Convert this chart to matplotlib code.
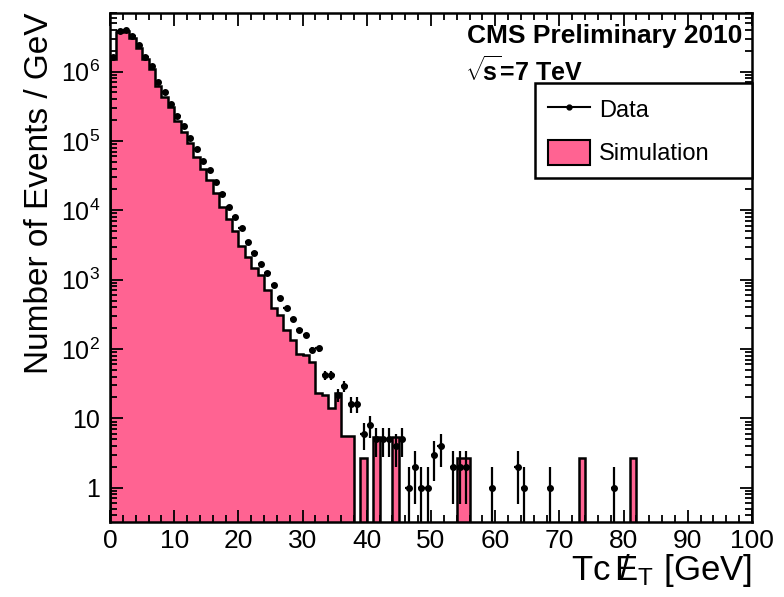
#!usr/bin/env python
'''
CMS 2010 Tc MET distribution, data vs simulation
'''

import numpy as np
import matplotlib
matplotlib.use('Agg')
import matplotlib.pyplot as plt
from matplotlib.ticker import MultipleLocator, LogLocator, FuncFormatter, NullFormatter
from matplotlib.lines import Line2D
from matplotlib.patches import Patch

plt.rcParams['font.family'] = ['Liberation Sans', 'DejaVu Sans']
plt.rcParams['mathtext.fontset'] = 'custom'
plt.rcParams['mathtext.rm'] = 'Liberation Sans'
plt.rcParams['mathtext.it'] = 'Liberation Sans:italic'
plt.rcParams['mathtext.bf'] = 'Liberation Sans:bold'

# 1 GeV bins from 0 to 100
edges = np.arange(0, 101, 1)

# simulation, bins 0..37
sim_bulk = [1.5e6, 3.7e6, 3.9e6, 3.1e6, 2.2e6, 1.5e6, 1.1e6, 6.3e5, 4.3e5, 3.1e5,
            1.96e5, 1.35e5, 9.2e4, 5.9e4, 4.0e4, 2.7e4, 1.8e4, 1.1e4, 7.6e3, 5.1e3,
            3.1e3, 2.1e3, 1.46e3, 1.15e3, 700, 385, 310, 188, 135, 84,
            82, 66, 23, 22, 14, 23, 5.5, 5.5]
sim_tail_bins = [39, 41, 44, 54, 55, 73, 81]
sim_tail_vals = [2.7, 5.4, 5.4, 2.7, 2.7, 2.7, 2.7]

# data, bins 0..40
data_bulk = [1.6e6, 3.8e6, 4.0e6, 3.3e6, 2.4e6, 1.6e6, 1.2e6, 7.1e5, 5.0e5, 3.4e5,
             2.3e5, 1.66e5, 1.1e5, 7.7e4, 5.2e4, 3.8e4, 2.6e4, 1.7e4, 1.1e4, 8.0e3,
             5.5e3, 3.5e3, 2.46e3, 1.7e3, 1.23e3, 850, 535, 390, 270, 188,
             160, 97, 102, 42, 42, 22, 29, 16, 16, 6, 8]
data_tail_bins = [41, 42, 43, 44, 45, 46, 47, 48, 49, 50, 51, 53, 54, 55, 59, 63, 64, 68, 78]
data_tail_counts = [5, 5, 5, 4, 5, 1, 2, 1, 1, 3, 4, 2, 2, 2, 1, 2, 1, 1, 1]

pink = '#ff6392'


def build_hists():
    sim = np.zeros(100)
    sim[:len(sim_bulk)] = sim_bulk
    sim[sim_tail_bins] = sim_tail_vals
    data = np.zeros(100)
    data[:len(data_bulk)] = data_bulk
    data[data_tail_bins] = data_tail_counts
    return sim, data


def plot_met():
    sim, data = build_hists()
    centers = 0.5 * (edges[:-1] + edges[1:])

    fig = plt.figure(figsize=(7.84, 5.97), dpi=100)
    ax = fig.add_axes([110 / 784, 1 - 522 / 597, 642 / 784, 509 / 597])
    ax.set_yscale('log')

    ax.stairs(sim, edges, baseline=0, fill=True, color=pink, lw=0)
    ax.stairs(sim, edges, baseline=0, fill=False, color='black', lw=1.8)

    m = data > 0
    ax.errorbar(centers[m], data[m], xerr=0.5, yerr=np.sqrt(data[m]),
                fmt='o', ms=4, color='black', ecolor='black', elinewidth=1.6,
                capsize=0, zorder=5)

    ax.set_xlim(0, 100)
    ax.set_ylim(0.32, 7e6)

    ax.xaxis.set_major_locator(MultipleLocator(10))
    ax.xaxis.set_minor_locator(MultipleLocator(2))
    ax.yaxis.set_major_locator(LogLocator(base=10, numticks=20))
    ax.yaxis.set_minor_locator(LogLocator(base=10, subs=np.arange(2, 10), numticks=20))
    ax.yaxis.set_minor_formatter(NullFormatter())

    def yfmt(v, pos):
        e = int(round(np.log10(v)))
        if e == 0:
            return '1'
        if e == 1:
            return '10'
        return r'$\mathregular{10^{%d}}$' % e
    ax.yaxis.set_major_formatter(FuncFormatter(yfmt))

    ax.tick_params(which='both', direction='in', top=True, right=True, width=1.3)
    ax.tick_params(which='major', length=9)
    ax.tick_params(which='minor', length=5)
    ax.tick_params(axis='x', labelsize=19, pad=5)
    ax.tick_params(axis='y', labelsize=18, pad=7)
    for s in ax.spines.values():
        s.set_linewidth(1.8)

    ax.set_ylabel('Number of Events / GeV', fontsize=24, loc='top', labelpad=4)
    ax.set_xlabel(r'Tc $\mathregular{/\!\!\!E_T}$ [GeV]', fontsize=25, loc='right', labelpad=-1)

    ax.text(0.985, 0.955, 'CMS Preliminary 2010', transform=ax.transAxes,
            fontsize=19, fontweight='bold', ha='right', va='center')
    ax.text(0.553, 0.885, r'$\sqrt{\!\mathbf{s}}$=7 TeV', transform=ax.transAxes,
            fontsize=18, fontweight='bold', ha='left', va='center')

    handles = [Line2D([], [], color='black', marker='o', ms=3.5, lw=1.5),
               Patch(facecolor=pink, edgecolor='black', lw=1.5)]
    leg = ax.legend(handles, ['Data', 'Simulation'], loc='upper left',
                    bbox_to_anchor=(0.662, 0.672, 0.338, 0.19), mode='expand',
                    fontsize=17, frameon=True,
                    fancybox=False, borderaxespad=0, handlelength=1.8,
                    handleheight=1.3, labelspacing=0.75, borderpad=0.55,
                    handletextpad=0.35)
    leg.get_frame().set_edgecolor('black')
    leg.get_frame().set_linewidth(1.8)
    leg.get_frame().set_alpha(1)

    fig.savefig('out.png', dpi=100)


if __name__ == "__main__":
    plot_met()
